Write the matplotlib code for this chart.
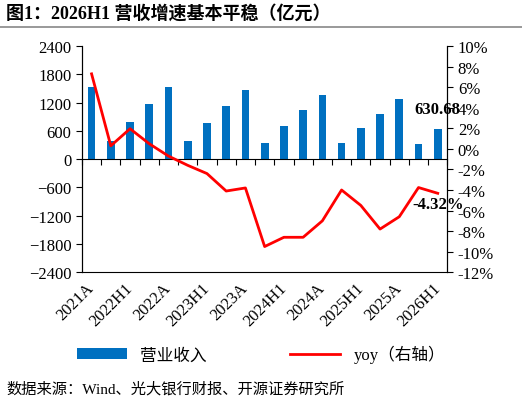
import matplotlib
matplotlib.use("Agg")
import matplotlib.pyplot as plt
import numpy as np

plt.rcParams['font.family'] = ['Liberation Serif', 'Noto Sans CJK SC', 'DejaVu Sans']

categories = ["2021A","2022Q1","2022H1","2022Q3","2022A","2023Q1","2023H1","2023Q3","2023A",
              "2024Q1","2024H1","2024Q3","2024A","2025Q1","2025H1","2025Q3","2025A","2026Q1","2026H1"]
revenue = [1532,388,790,1179,1525,388,769,1122,1461,346,699,1038,1362,339,664,953,1270,325,630.68]
yoy = [7.3,0.3,1.96,0.5,-0.7,-1.6,-2.4,-4.1,-3.8,-9.5,-8.6,-8.6,-7.0,-4.0,-5.5,-7.8,-6.6,-3.76,-4.32]

fig = plt.figure(figsize=(5.22,4.06), dpi=100)
ax = fig.add_axes([0.157,0.327,0.70,0.557])
x = np.arange(len(categories))
ax.bar(x, revenue, width=0.4, color='#0070C0', label='营业收入')
ax.set_ylim(-2400,2400)
ax.set_yticks(np.arange(-2400,2401,600))
ax.set_xlim(-0.5,len(categories)-0.5)
ax.spines['top'].set_visible(False)
ax.spines['bottom'].set_position(('data',0))
ax.spines['bottom'].set_color('black')
ax.set_xticks(np.arange(-0.5,len(categories),1.0))
ax.set_xticklabels([])
ax.tick_params(axis='x', direction='out', length=4)
ax.tick_params(axis='y', labelsize=12, length=4)
for i in range(0,len(categories),2):
    ax.text(x[i]+0.3, -2400-150, categories[i], rotation=45, ha='right', va='top', fontsize=12)
ax.text(x[-1], revenue[-1]+270, "630.68", ha='center', va='bottom', fontsize=12, fontweight='bold')

ax2 = ax.twinx()
ax2.plot(x, yoy, color='#FF0000', lw=2, label='yoy（右轴）')
ax2.set_ylim(-12,10)
ax2.set_yticks(np.arange(-12,11,2))
ax2.set_yticklabels([f"{v}%" for v in range(-12,11,2)])
ax2.tick_params(axis='y', labelsize=12, length=4)
ax2.spines['top'].set_visible(False)
ax2.text(x[-1], yoy[-1]-0.3, "-4.32%", ha='center', va='top', fontsize=12, fontweight='bold')

h1,l1 = ax.get_legend_handles_labels()
h2,l2 = ax2.get_legend_handles_labels()
fig.legend(h1+h2, l1+l2, loc='center', bbox_to_anchor=(0.5,0.125), ncol=2, frameon=False,
           fontsize=12, columnspacing=5, handlelength=3)

fig.text(0.012,0.965,"图1：2026H1 营收增速基本平稳（亿元）", fontsize=13, fontweight='bold', va='center')
fig.add_artist(plt.Line2D([0,1],[0.93,0.93], color='#888888', lw=1.2))
fig.text(0.012,0.04,"数据来源：Wind、光大银行财报、开源证券研究所", fontsize=11, va='center')
fig.savefig("out.png", dpi=100)
